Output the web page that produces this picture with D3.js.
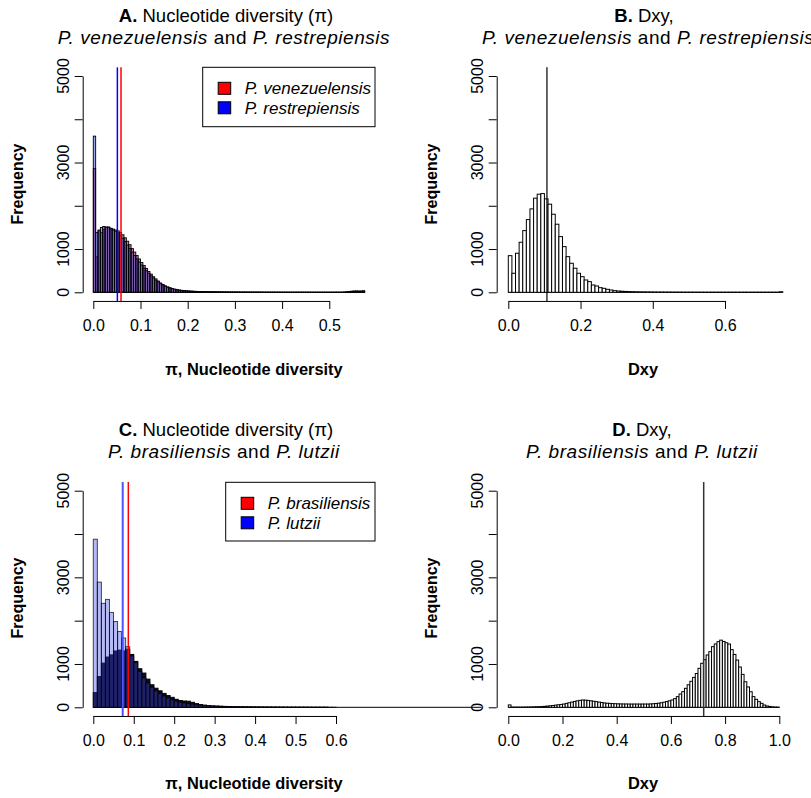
<!DOCTYPE html>
<html><head><meta charset="utf-8">
<script src="https://cdn.jsdelivr.net/npm/d3@7"></script>
<style>body{margin:0;background:#fff} svg{display:block}</style>
</head><body>
<script>
// ---------------- DATA ----------------
const yTicks = [0, 1000, 2000, 3000, 4000, 5000];
const yTickLabels = ["0", "1000", "", "3000", "", "5000"];

const xTicksA = [0, 0.1, 0.2, 0.3, 0.4, 0.5];
const xTickLabelsA = ["0.0", "0.1", "0.2", "0.3", "0.4", "0.5"];
const xTicksB = [0, 0.2, 0.4, 0.6];
const xTickLabelsB = ["0.0", "0.2", "0.4", "0.6"];
const xTicksC = [0, 0.1, 0.2, 0.3, 0.4, 0.5, 0.6];
const xTickLabelsC = ["0.0", "0.1", "0.2", "0.3", "0.4", "0.5", "0.6"];
const xTicksD = [0, 0.2, 0.4, 0.6, 0.8, 1.0];
const xTickLabelsD = ["0.0", "0.2", "0.4", "0.6", "0.8", "1.0"];

// Panel A: bin width 0.005
const binWidthA = 0.005;
const piVenezuelensis = [
  2860, 820, 1420, 1380, 1450, 1500, 1510, 1480, 1460, 1440,
  1420, 1380, 1330, 1260, 1180, 1100, 1010, 930, 850, 770,
  690, 620, 550, 480, 420, 360, 310, 260, 215, 180,
  150, 125, 105, 88, 74, 62, 53, 46, 40, 35,
  31, 28, 25, 22, 20, 18, 16, 15, 14, 13,
  12, 11, 10, 9, 9, 8, 8, 7, 7, 6,
  6, 6, 5, 5, 5, 5, 4, 4, 4, 4,
  4, 3, 3, 3, 3, 3, 3, 3, 2, 2,
  2, 2, 2, 2, 2, 2, 2, 2, 2, 2,
  2, 2, 1, 1, 1, 1, 1, 2, 1, 1,
  1, 1, 2, 1, 1, 2, 5, 10, 20, 25,
  30, 30, 28, 30, 35
];
const piRestrepiensis = [
  3610, 1380, 1440, 1500, 1520, 1510, 1500, 1470, 1440, 1410,
  1370, 1310, 1250, 1170, 1090, 1010, 930, 850, 770, 700,
  630, 560, 500, 440, 380, 330, 280, 240, 200, 170,
  140, 118, 98, 82, 68, 57, 48, 41, 35, 30,
  26, 23, 20, 18, 16, 14, 13, 12, 11, 10,
  9, 9, 8, 8, 7, 7, 6, 6, 5, 5,
  5, 4, 4, 4, 4, 3, 3, 3, 3, 3,
  3, 2, 2, 2, 2, 2, 2, 2, 2, 2,
  2, 1, 1, 1, 1, 1, 1, 1, 1, 1,
  1, 1, 1, 1, 1, 1, 1, 1, 1, 1,
  1, 1, 1, 1, 1, 1, 4, 8, 15, 20,
  22, 25, 24, 22, 28
];
const meanPiVenezuelensis = 0.0587;
const meanPiRestrepiensis = 0.051;

// Panel B: bin width 0.01
const binWidthB = 0.01;
const dxyVenRes = [
  847, 440, 903, 1157, 1426, 1681, 1928, 2176, 2268, 2282,
  2160, 2037, 1805, 1574, 1287, 1056, 824, 671, 556, 440,
  361, 285, 246, 169, 146, 107, 92, 69, 53, 38,
  30, 24, 20, 17, 14, 12, 10, 9, 8, 7,
  6, 5, 5, 4, 4, 3, 3, 3, 2, 2,
  2, 2, 2, 1, 1, 1, 1, 1, 1, 1,
  1, 1, 1, 1, 1, 1, 1, 1, 1, 1,
  1, 1, 1, 1, 1, 12
];
const meanDxyVenRes = 0.107;

// Panel C: bin width 0.01
const binWidthC = 0.01;
const piBrasiliensis = [
  340, 710, 1020, 1160, 1210, 1300, 1320, 1300, 1340, 1220,
  1060, 890, 790, 650, 520, 440, 380, 320, 270, 230,
  185, 155, 145, 140, 115, 85, 62, 50, 38, 32,
  28, 24, 20, 17, 15, 13, 11, 10, 9, 8,
  7, 6, 6, 5, 5, 4, 4, 3, 3, 3,
  2, 2, 2, 1, 1, 1, 1, 1, 0, 0,
  0, 0, 0, 0, 0, 0, 0, 0, 0, 0,
  0, 0, 0, 0, 0, 0, 0, 0, 0, 0,
  0, 0, 0, 0, 0, 0, 0, 0, 0, 0,
  0, 0, 0, 0, 0, 0
];
const piLutzii = [
  3880, 2890, 2400, 2490, 2190, 1980, 1750, 1600, 1400, 1185,
  1030, 830, 680, 560, 460, 380, 320, 260, 215, 175,
  145, 120, 100, 85, 72, 62, 52, 44, 37, 31,
  26, 23, 20, 18, 16, 14, 12, 11, 10, 9,
  8, 7, 6, 6, 5, 5, 4, 4, 3, 3,
  3, 2, 2, 2, 1, 1, 1, 1, 1, 1,
  0, 0, 0, 0, 0, 0, 0, 0, 0, 0,
  0, 0, 0, 0, 0, 0, 0, 0, 0, 0,
  0, 0, 0, 0, 0, 0, 0, 0, 0, 0,
  0, 0, 0, 0, 0, 0
];
const meanPiBrasiliensis = 0.0866;
const meanPiLutzii = 0.0727;

// Panel D: bin width 0.01
const binWidthD = 0.01;
const dxyBraLut = [
  55, 5, 3, 3, 3, 4, 5, 6, 8, 10,
  12, 15, 18, 22, 28, 35, 42, 50, 58, 66,
  75, 90, 105, 120, 135, 150, 160, 168, 165, 158,
  150, 140, 130, 120, 110, 100, 94, 90, 86, 83,
  80, 78, 77, 76, 75, 75, 75, 75, 75, 75,
  75, 75, 78, 82, 88, 95, 105, 118, 132, 150,
  169, 200, 246, 307, 361, 438, 520, 600, 690, 780,
  900, 1016, 1100, 1208, 1284, 1400, 1462, 1515, 1550, 1520,
  1490, 1460, 1330, 1220, 1090, 930, 760, 590, 470, 360,
  246, 184, 130, 92, 53, 30, 20, 10, 5, 3
];
const meanDxyBraLut = 0.721;

// ---------------- LAYOUT / STYLE ----------------
const W = 811, H = 798;
const FONT = "'Liberation Sans', Arial, Helvetica, sans-serif";
const svg = d3.select("body").append("svg").attr("width", W).attr("height", H)
  .style("font-family", FONT);

const panels = [
  {
    xr: [93.3, 329.3], yr: [292.3, 76], yAxisX: 82.7,
    ticks: xTicksA, labels: xTickLabelsA,
    series: [
      {counts: piVenezuelensis, bw: binWidthA, fill: "rgba(170,30,80,0.6)", stroke: "#000", sw: 0.9},
      {counts: piRestrepiensis, bw: binWidthA, fill: "rgba(40,60,200,0.45)", stroke: "#000", sw: 0.9}
    ],
    means: [
      {v: meanPiRestrepiensis, color: "#0000ff", w: 1.5},
      {v: meanPiVenezuelensis, color: "#ff0000", w: 1.5}
    ],
    baselineTo: 0.575,
    title1: [["A.", "bold", "normal"], [" Nucleotide diversity (\u03c0)", "normal", "normal"]],
    title2: [["P. venezuelensis", "normal", "italic"], [" and ", "normal", "normal"], ["P. restrepiensis", "normal", "italic"]],
    titleX: 226, titleAnchor2: "middle", title2X: 224, titleY: 22,
    ylabX: 23, ylabY: 184,
    xlab: "\u03c0, Nucleotide diversity", xlabX: 254, xlabY: 375,
    legend: {x: 202.7, y: 67.3, w: 172.3, h: 59.4, items: [["P. venezuelensis", "#ff0000"], ["P. restrepiensis", "#0000ff"]]}
  },
  {
    xr: [508.3, 725], yr: [292.3, 76], yAxisX: 496.7,
    ticks: xTicksB, labels: xTickLabelsB,
    series: [
      {counts: dxyVenRes, bw: binWidthB, fill: "#ffffff", stroke: "#000", sw: 1}
    ],
    means: [{v: meanDxyVenRes, color: "#000", w: 1.2}],
    baselineTo: 0.76,
    title1: [["B.", "bold", "normal"], [" Dxy,", "normal", "normal"]],
    title2: [["P. venezuelensis", "normal", "italic"], [" and ", "normal", "normal"], ["P. restrepiensis", "normal", "italic"]],
    titleX: 644, titleAnchor2: "start", title2X: 482, titleY: 22,
    ylabX: 437, ylabY: 184,
    xlab: "Dxy", xlabX: 643, xlabY: 375
  },
  {
    xr: [93.3, 336], yr: [707.3, 490.7], yAxisX: 82.7,
    ticks: xTicksC, labels: xTickLabelsC,
    series: [
      {counts: piBrasiliensis, bw: binWidthC, fill: "#0c0a1c", stroke: "#000", sw: 1},
      {counts: piLutzii, bw: binWidthC, fill: "rgba(60,70,230,0.38)", stroke: "rgba(0,0,0,0.7)", sw: 1}
    ],
    means: [
      {v: meanPiLutzii, color: "#4a55ff", w: 2},
      {v: meanPiBrasiliensis, color: "#ff0000", w: 1.5}
    ],
    baselineTo: 0.96,
    title1: [["C.", "bold", "normal"], [" Nucleotide diversity (\u03c0)", "normal", "normal"]],
    title2: [["P. brasiliensis", "normal", "italic"], [" and ", "normal", "normal"], ["P. lutzii", "normal", "italic"]],
    titleX: 226, titleAnchor2: "middle", title2X: 224, titleY: 436,
    ylabX: 23, ylabY: 598,
    xlab: "\u03c0, Nucleotide diversity", xlabX: 254, xlabY: 789,
    legend: {x: 225.7, y: 482.3, w: 149.3, h: 58.7, items: [["P. brasiliensis", "#ff0000"], ["P. lutzii", "#0000ff"]]}
  },
  {
    xr: [508.3, 779.3], yr: [707.3, 490.7], yAxisX: 496.7,
    ticks: xTicksD, labels: xTickLabelsD,
    series: [
      {counts: dxyBraLut, bw: binWidthD, fill: "#ffffff", stroke: "#000", sw: 1}
    ],
    means: [{v: meanDxyBraLut, color: "#333", w: 1.5}],
    baselineTo: 1.0,
    title1: [["D.", "bold", "normal"], [" Dxy,", "normal", "normal"]],
    title2: [["P. brasiliensis", "normal", "italic"], [" and ", "normal", "normal"], ["P. lutzii", "normal", "italic"]],
    titleX: 642, titleAnchor2: "middle", title2X: 642, titleY: 436,
    ylabX: 437, ylabY: 598,
    xlab: "Dxy", xlabX: 643, xlabY: 789
  }
];

function drawPanel(p) {
  const g = svg.append("g");
  const last = p.ticks[p.ticks.length - 1];
  const x = d3.scaleLinear().domain([0, last]).range(p.xr);
  const y = d3.scaleLinear().domain([0, 5000]).range(p.yr);

  // baseline for zero-count bins
  g.append("line")
    .attr("x1", x(0)).attr("x2", x(p.baselineTo))
    .attr("y1", y(0)).attr("y2", y(0))
    .attr("stroke", "#000").attr("stroke-width", 1);

  p.series.forEach(s => {
    const bins = s.counts.map((c, i) => ({i, c})).filter(d => d.c > 0);
    g.append("g").selectAll("rect").data(bins).join("rect")
      .attr("x", d => x(d.i * s.bw))
      .attr("width", d => x((d.i + 1) * s.bw) - x(d.i * s.bw))
      .attr("y", d => y(d.c))
      .attr("height", d => Math.max(0.01, y(0) - y(d.c)))
      .attr("fill", s.fill)
      .attr("stroke", s.stroke)
      .attr("stroke-width", s.sw);
  });

  // mean lines across plot region
  p.means.forEach(m => {
    g.append("line")
      .attr("x1", x(m.v)).attr("x2", x(m.v))
      .attr("y1", y(5200)).attr("y2", y(-200))
      .attr("stroke", m.color).attr("stroke-width", m.w);
  });

  // y axis
  const ya = g.append("g").attr("transform", `translate(${p.yAxisX},0)`)
    .call(d3.axisLeft(y).tickValues(yTicks).tickSize(8).tickSizeOuter(0).tickFormat(""));
  ya.selectAll("path,line").attr("stroke", "#000").attr("stroke-width", 1);
  g.append("g").selectAll("text").data(yTicks.map((t, i) => ({t, l: yTickLabels[i]})).filter(d => d.l))
    .join("text")
    .attr("transform", d => `translate(${p.yAxisX - 14},${y(d.t)}) rotate(-90)`)
    .attr("text-anchor", "middle")
    .style("font-size", "16px")
    .text(d => d.l);

  // x axis at bottom of plot region
  const xa = g.append("g").attr("transform", `translate(0,${y(-200)})`)
    .call(d3.axisBottom(x).tickValues(p.ticks).tickSize(8).tickSizeOuter(0)
      .tickFormat((d, i) => p.labels[i]));
  xa.selectAll("path,line").attr("stroke", "#000").attr("stroke-width", 1);
  xa.selectAll("text").attr("y", 19).attr("fill", "#000")
    .style("font-size", "16px").style("font-family", FONT);

  // titles
  const t1 = g.append("text").attr("x", p.titleX).attr("y", p.titleY)
    .attr("text-anchor", "middle").style("font-size", "18.5px");
  p.title1.forEach(([txt, w, st]) => t1.append("tspan").attr("font-weight", w).attr("font-style", st).text(txt));
  const t2 = g.append("text").attr("x", p.title2X).attr("y", p.titleY + 22)
    .attr("text-anchor", p.titleAnchor2).style("font-size", "19px")
    .style("letter-spacing", "0.55px");
  p.title2.forEach(([txt, w, st]) => t2.append("tspan").attr("font-weight", w).attr("font-style", st).text(txt));

  // axis titles
  g.append("text")
    .attr("transform", `translate(${p.ylabX},${p.ylabY}) rotate(-90)`)
    .attr("text-anchor", "middle").attr("font-weight", "bold")
    .style("font-size", "16px").text("Frequency");
  g.append("text").attr("x", p.xlabX).attr("y", p.xlabY)
    .attr("text-anchor", "middle").attr("font-weight", "bold")
    .style("font-size", "16.4px").text(p.xlab);

  // legend
  if (p.legend) {
    const L = p.legend;
    const lg = g.append("g");
    lg.append("rect").attr("x", L.x).attr("y", L.y).attr("width", L.w).attr("height", L.h)
      .attr("fill", "#fff").attr("stroke", "#000").attr("stroke-width", 1);
    L.items.forEach(([name, col], i) => {
      const cy = L.y + 21 + i * 19.5;
      lg.append("rect").attr("x", L.x + 15.5).attr("y", cy - 6).attr("width", 12.5).attr("height", 12)
        .attr("fill", col).attr("stroke", "#000").attr("stroke-width", 1);
      lg.append("text").attr("x", L.x + 42).attr("y", cy + 6)
        .attr("font-style", "italic").style("font-size", "17px").text(name);
    });
  }
}

panels.forEach(drawPanel);
</script>
</body></html>
